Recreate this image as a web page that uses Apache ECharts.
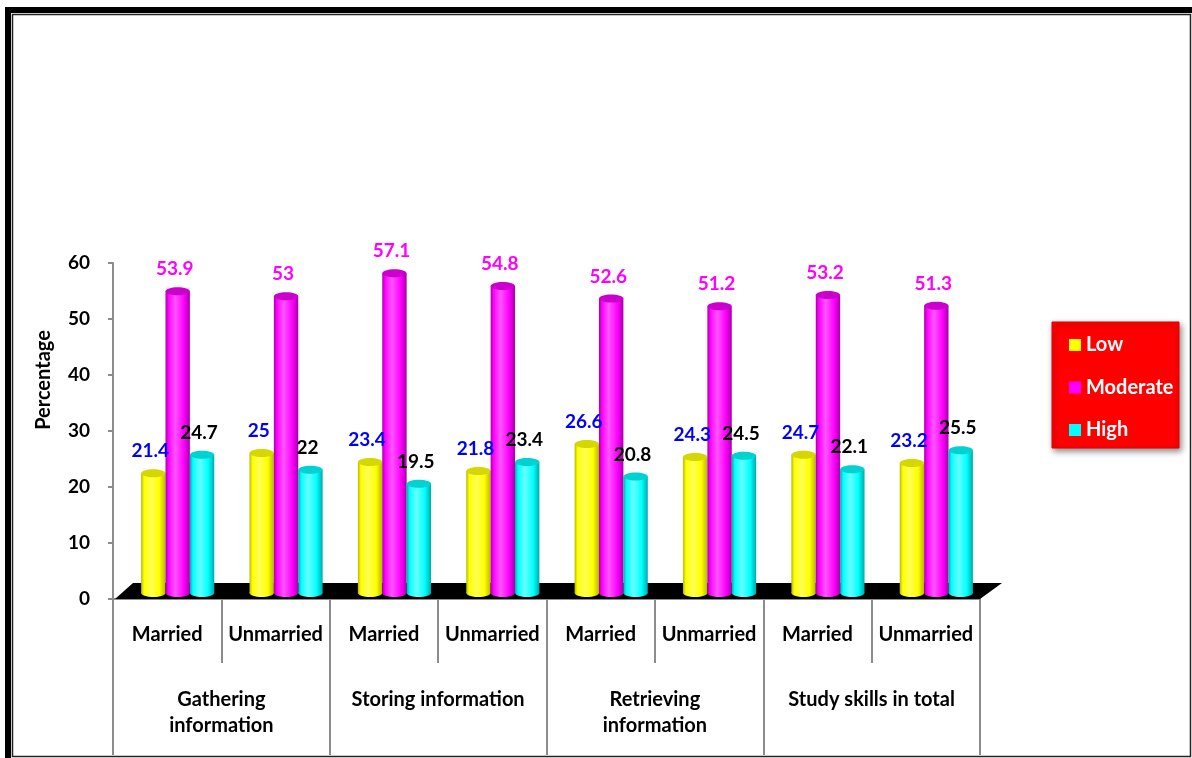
<!DOCTYPE html>
<html>
<head>
<meta charset="utf-8">
<script src="https://cdn.jsdelivr.net/npm/echarts@6/dist/echarts.min.js"></script>
<style>
html,body{margin:0;padding:0;background:#fff;}
#chart{width:1192px;height:758px;}
</style>
</head>
<body>
<div id="chart"></div>
<script>
const categories = ['Married','Unmarried','Married','Unmarried','Married','Unmarried','Married','Unmarried'];
const groups = ['Gathering\ninformation','Storing information','Retrieving\ninformation','Study skills in total'];
const seriesNames = ['Low','Moderate','High'];
const low = [21.4, 25, 23.4, 21.8, 26.6, 24.3, 24.7, 23.2];
const moderate = [53.9, 53, 57.1, 54.8, 52.6, 51.2, 53.2, 51.3];
const high = [24.7, 22, 19.5, 23.4, 20.8, 24.5, 22.1, 25.5];
const yTicks = [0, 10, 20, 30, 40, 50, 60];
const yTitle = 'Percentage';

const FONT = 'Lato, "Open Sans", sans-serif';
const palettes = [
  {main:'#FFFF00', dark:'#B8B800', light:'#FFFF55', top:'#D6D600', label:'#0000FF'},
  {main:'#FF00FF', dark:'#A800A8', light:'#FF55FF', top:'#CC00CC', label:'#FF00FF'},
  {main:'#00FFFF', dark:'#00AAAA', light:'#66FFFF', top:'#00D2D2', label:'#000000'}
];

function makeRender(sIdx){
  const p = palettes[sIdx];
  return function(params, api){
    const ci = api.value(0), v = api.value(1);
    const base = api.coord([ci, 0]);
    const top = api.coord([ci, v]);
    const band = api.size([1, 0])[0];
    const bw = band * 0.225;
    const cx = base[0] + band * 0.097 + (sIdx - 1) * bw;
    const dy = -6;
    const yb = base[1] + dy, yt = top[1] + dy;
    const rx = bw / 2, ry = 4;
    const grad = {type:'linear', x:0, y:0, x2:1, y2:0, colorStops:[
      {offset:0, color:p.dark},{offset:0.12, color:p.main},{offset:0.4, color:p.light},
      {offset:0.75, color:p.main},{offset:1, color:p.dark}]};
    return {type:'group', children:[
      {type:'ellipse', shape:{cx:cx, cy:yb, rx:rx, ry:ry}, style:{fill:grad}},
      {type:'rect', shape:{x:cx - rx, y:yt, width:bw, height:yb - yt}, style:{fill:grad}},
      {type:'ellipse', shape:{cx:cx, cy:yt, rx:rx, ry:ry}, style:{fill:p.top}},
      {type:'text', z2:10, style:{text:String(v), x:cx - 3, y:yt - 22, align:'center', verticalAlign:'middle',
        fill:p.label, font:'bold 19px ' + FONT}}
    ]};
  };
}

function floorRender(params, api){
  const cs = params.coordSys;
  const yb = cs.y + cs.height;
  const x0 = cs.x, x1 = cs.x + cs.width;
  return {type:'polygon', shape:{points:[[x0 + 2, yb],[x0 + 20, yb - 16],[x1 + 22, yb - 16],[x1, yb]]},
    style:{fill:'#000'}};
}

const seriesData = [low, moderate, high];
const series = [{
  type:'custom', name:'floor', renderItem:floorRender, data:[[0,0]], z:1, silent:true,
  encode:{x:0, y:1}, tooltip:{show:false}
}];
seriesData.forEach((arr, s) => {
  series.push({
    type:'custom', name:seriesNames[s], renderItem:makeRender(s), z:3,
    itemStyle:{color:palettes[s].main},
    encode:{x:0, y:1},
    data:arr.map((v, i) => [i, v])
  });
});

const chart = echarts.init(document.getElementById('chart'), null, {renderer:'canvas'});
const grey = '#8c8c8c';
chart.setOption({
  animation:false,
  backgroundColor:'#fff',
  grid:{left:113, right:212, top:263, bottom:159},
  legend:{
    orient:'vertical', left:1064, top:330, z:10,
    data:seriesNames, icon:'rect', itemWidth:12, itemHeight:12, itemGap:22.5,
    textStyle:{color:'#fff', fontWeight:'bold', fontSize:20, fontFamily:FONT, lineHeight:20}
  },
  graphic:[
    {type:'rect', z:0, shape:{x:1052, y:322, width:127, height:126},
      style:{fill:'#FF0000', stroke:'#E00000', lineWidth:1, shadowBlur:6, shadowColor:'rgba(0,0,0,0.45)', shadowOffsetX:2, shadowOffsetY:3}},
    {type:'rect', z:0, shape:{x:5, y:7, width:6, height:751}, style:{fill:'#000'}},
    {type:'rect', z:0, shape:{x:5, y:7, width:1187, height:6}, style:{fill:'#000'}},
    {type:'rect', z:0, shape:{x:12.5, y:14.5, width:1178, height:742}, style:{fill:'none', stroke:'#222', lineWidth:1.5}},
    {type:'text', z:5, x:44, y:380, rotation:Math.PI / 2,
      style:{text:yTitle, align:'center', verticalAlign:'middle', fill:'#000', font:'bold 20px ' + FONT}}
  ],
  xAxis:[
    {type:'category', data:categories, position:'bottom',
      axisLine:{show:true, lineStyle:{color:grey, width:2}},
      axisTick:{show:true, interval:0, length:64, lineStyle:{color:grey, width:2}},
      axisLabel:{interval:0, margin:26, color:'#000', fontWeight:'bold', fontSize:20, fontFamily:FONT}
    },
    {type:'category', data:groups, position:'bottom',
      axisLine:{show:true, lineStyle:{color:grey, width:2}},
      axisTick:{show:true, interval:0, length:156, lineStyle:{color:grey, width:2}},
      axisLabel:{interval:0, margin:88, color:'#000', fontWeight:'bold', fontSize:20, fontFamily:FONT, lineHeight:26, verticalAlign:'top'}
    }
  ],
  yAxis:{
    type:'value', min:yTicks[0], max:yTicks[yTicks.length - 1], interval:10,
    axisLine:{show:true, lineStyle:{color:grey, width:2}},
    axisTick:{show:true, length:5, lineStyle:{color:grey, width:2}},
    splitLine:{show:false},
    axisLabel:{margin:23, color:'#000', fontWeight:'bold', fontSize:19, fontFamily:FONT}
  },
  series:series
});
</script>
</body>
</html>
